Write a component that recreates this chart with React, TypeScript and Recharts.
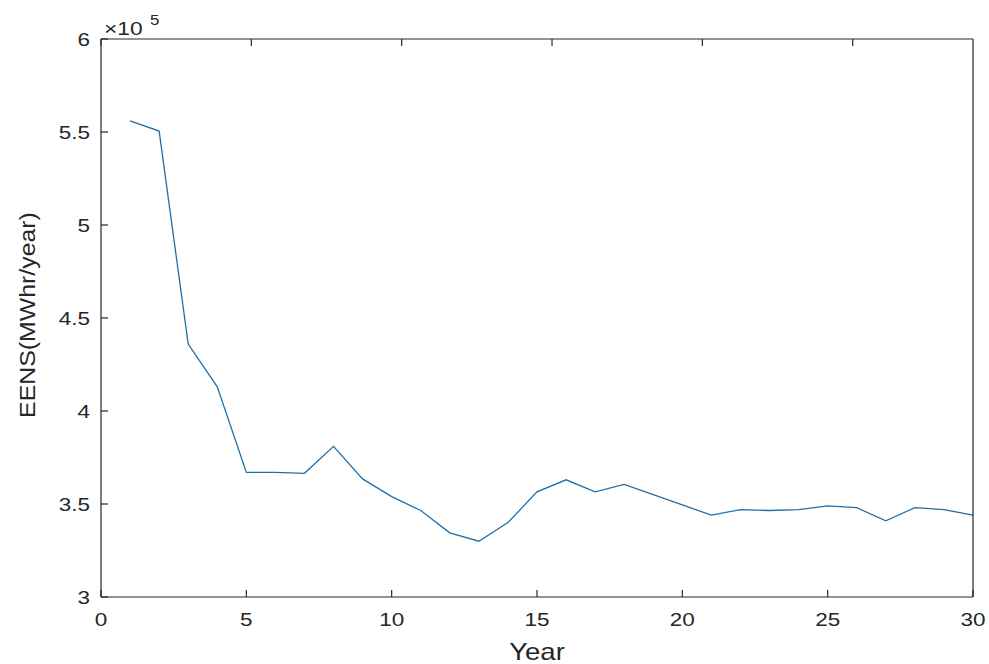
import { LineChart, Line, XAxis, YAxis } from "recharts";

const years = [
  1, 2, 3, 4, 5, 6, 7, 8, 9, 10, 11, 12, 13, 14, 15, 16, 17, 18, 19, 20, 21,
  22, 23, 24, 25, 26, 27, 28, 29, 30,
];
const eens = [
  556000, 550500, 436000, 413000, 367000, 367000, 366500, 381000, 363500,
  354000, 346500, 334500, 330000, 340000, 356500, 363000, 356500, 360500,
  355000, 349500, 344000, 347000, 346500, 347000, 349000, 348000, 341000,
  348000, 347000, 344000,
];
const xTicks = [0, 5, 10, 15, 20, 25, 30];
const yTicks = [300000, 350000, 400000, 450000, 500000, 550000, 600000];

const data = years.map((year, i) => ({ year, eens: eens[i] }));

const INK = "#262626";
const FONT = "'Liberation Sans', Arial, sans-serif";
const TICK = 7;

// MATLAB-style ticks point inward, so the tick marks are drawn here
const BottomTick = (props: any) => {
  const { x, y, payload } = props;
  return (
    <g>
      <line x1={x} x2={x} y1={y - 16} y2={y - 16 - TICK} stroke={INK} strokeWidth={1.2} />
      <text
        transform={`translate(${x},${y + 13}) scale(1.25,1)`}
        textAnchor="middle"
        fontSize={18}
        fontFamily={FONT}
        fill={INK}
      >
        {payload.value}
      </text>
    </g>
  );
};

const LeftTick = (props: any) => {
  const { x, y, payload } = props;
  return (
    <g>
      <line x1={x + 11} x2={x + 11 + TICK} y1={y} y2={y} stroke={INK} strokeWidth={1.2} />
      <text
        transform={`translate(${x},${y + 6.5}) scale(1.25,1)`}
        textAnchor="end"
        fontSize={18}
        fontFamily={FONT}
        fill={INK}
      >
        {payload.value / 100000}
      </text>
    </g>
  );
};

const TopTick = (props: any) => {
  const { x, y } = props;
  return <line x1={x} x2={x} y1={y} y2={y + TICK} stroke={INK} strokeWidth={1.2} />;
};

const RightTick = (props: any) => {
  const { x, y } = props;
  return <line x1={x} x2={x - TICK} y1={y} y2={y} stroke={INK} strokeWidth={1.2} />;
};

export default function App() {
  return (
    <div
      style={{
        position: "absolute",
        left: 0,
        top: 0,
        width: 989,
        height: 664,
        background: "#fff",
      }}
    >
      <LineChart
        width={989}
        height={664}
        data={data}
        margin={{ top: 38, right: 15, bottom: 0, left: 0 }}
      >
        <XAxis
          xAxisId="b"
          dataKey="year"
          type="number"
          domain={[0, 30]}
          ticks={xTicks}
          height={67}
          tickSize={0}
          tickMargin={16}
          tickLine={false}
          stroke={INK}
          strokeWidth={1.2}
          tick={<BottomTick />}
          interval={0}
        />
        <XAxis
          xAxisId="t"
          orientation="top"
          type="number"
          domain={[0, 30]}
          ticks={xTicks}
          height={1}
          tickSize={0}
          tickMargin={0}
          tickLine={false}
          stroke={INK}
          strokeWidth={1.2}
          tick={<TopTick />}
          interval={0}
        />
        <YAxis
          yAxisId="l"
          type="number"
          domain={[300000, 600000]}
          ticks={yTicks}
          width={101}
          tickSize={0}
          tickMargin={11}
          tickLine={false}
          stroke={INK}
          strokeWidth={1.2}
          tick={<LeftTick />}
          interval={0}
        />
        <YAxis
          yAxisId="r"
          orientation="right"
          type="number"
          domain={[300000, 600000]}
          ticks={yTicks}
          width={1}
          tickSize={0}
          tickMargin={0}
          tickLine={false}
          stroke={INK}
          strokeWidth={1.2}
          tick={<RightTick />}
          interval={0}
        />
        <Line
          xAxisId="b"
          yAxisId="l"
          type="linear"
          dataKey="eens"
          stroke="#1f6fa8"
          strokeWidth={1.3}
          dot={false}
          isAnimationActive={false}
        />
      </LineChart>
      <svg
        width={989}
        height={664}
        style={{ position: "absolute", left: 0, top: 0, pointerEvents: "none" }}
        fontFamily={FONT}
        fill={INK}
      >
        <text
          transform="translate(35,315) rotate(-90) scale(1.13,1)"
          textAnchor="middle"
          fontSize={22}
        >
          EENS(MWhr/year)
        </text>
        <text
          transform="translate(537,660) scale(1.2,1)"
          textAnchor="middle"
          fontSize={23}
        >
          Year
        </text>
        <text transform="translate(104,35) scale(1.2,1)" fontSize={19}>
          ×10
        </text>
        <text transform="translate(150,25) scale(1.2,1)" fontSize={14}>
          5
        </text>
      </svg>
    </div>
  );
}
